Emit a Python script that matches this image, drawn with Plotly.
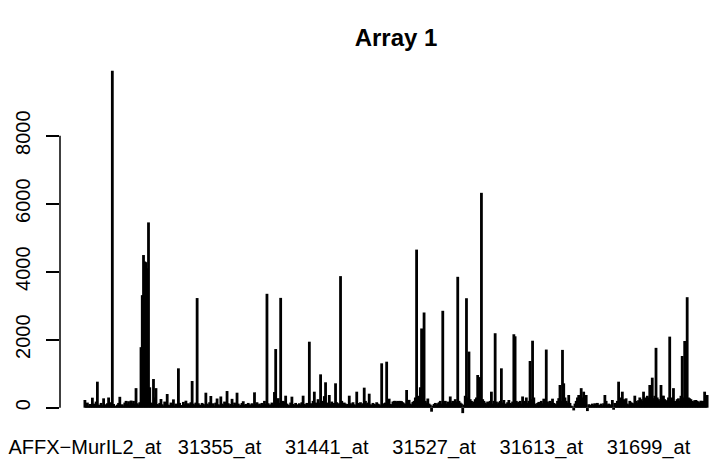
import plotly.graph_objects as go

# Expression values of Array 1 (probe index 1..500)
values = [
    226, 80, 150, 60, 110, 40, 294, 120, 90, 180,
    765, 90, 60, 140, 70, 275, 100, 50, 130, 300,
    160, 80, 9910, 110, 60, 30, 90, 140, 320, 70,
    100, 60, 150, 200, 120, 190, 80, 210, 130, 200,
    110, 575, 130, 90, 160, 1780, 3310, 4490, 4300, 4280,
    4100, 5450, 600, 150, 120, 843, 300, 575, 110, 90,
    140, 256, 100, 60, 180, 130, 402, 90, 70, 150,
    110, 245, 60, 120, 90, 1158, 140, 80, 50, 170,
    100, 206, 60, 130, 90, 160, 785, 120, 80, 150,
    3225, 130, 90, 60, 140, 110, 70, 441, 120, 90,
    160, 344, 80, 130, 60, 150, 270, 100, 70, 330,
    120, 90, 180, 140, 490, 130, 70, 110, 260, 80,
    150, 100, 441, 120, 60, 90, 140, 190, 80, 110,
    60, 140, 100, 70, 130, 90, 451, 110, 160, 80,
    120, 70, 140, 90, 200, 110, 3350, 130, 80, 100,
    150, 90, 460, 1725, 120, 280, 140, 3230, 110, 200,
    180, 353, 120, 90, 70, 150, 324, 110, 80, 140,
    100, 60, 130, 90, 160, 353, 110, 80, 140, 120,
    1941, 130, 90, 200, 471, 150, 110, 250, 140, 981,
    200, 130, 340, 747, 150, 90, 373, 120, 180, 100,
    140, 717, 160, 110, 130, 3870, 200, 90, 150, 120,
    80, 110, 353, 130, 90, 160, 100, 70, 471, 140,
    110, 160, 90, 130, 589, 200, 120, 150, 412, 100,
    80, 140, 110, 90, 160, 120, 100, 70, 1305, 130,
    90, 150, 1353, 130, 265, 110, 90, 180, 200, 200,
    170, 200, 120, 200, 190, 160, 130, 110, 520, 150,
    230, 120, 90, 170, 200, 300, 4650, 250, 350, 600,
    2330, 2000, 2800, 200, 150, 270, 120, 90, -118, 60,
    110, 140, 90, 130, 160, 200, 120, 2850, 140, 200,
    120, 180, 90, 330, 150, 200, 140, 250, 180, 3850,
    200, 150, 120, -160, 90, 350, 3220, 300, 1650, 250,
    200, 150, 180, 250, 300, 962, 600, 900, 6320, 250,
    200, 150, 120, 180, 140, 200, 471, 120, 200, 2190,
    180, 120, 160, 200, 1158, 150, 226, 90, 120, 160,
    226, 140, 120, 180, 2160, 2100, 200, 150, 170, 200,
    120, 330, 180, 200, 300, 140, 200, 1373, 250, 1970,
    300, 120, 90, 140, 170, 160, 200, 130, 265, 150,
    1710, 180, 120, 200, 150, 265, 140, 120, 90, 200,
    280, 667, 200, 1700, 717, 300, 200, 150, 373, 140,
    60, 40, -80, 120, 200, 300, 373, 250, 575, 300,
    471, 200, 373, -100, 100, 90, 60, 120, 80, 130,
    60, 140, 90, 50, 120, 70, 130, 373, 200, 90,
    120, 60, 100, 226, -60, 140, 90, 200, 765, 300,
    150, 471, 250, 180, 275, 120, 90, 200, 160, 140,
    120, 353, 200, 150, 220, 300, 250, 200, 471, 300,
    250, 350, 300, 667, 400, 883, 280, 350, 1760, 300,
    250, 200, 667, 350, 353, 250, 180, 220, 300, 2090,
    250, 300, 575, 200, 150, 250, 275, 200, 350, 1520,
    300, 1961, 400, 3250, 300, 275, 250, 200, 180, 220,
    226, 200, 180, 150, 206, 120, 200, 471, 300, 373,
]
index = list(range(1, len(values) + 1))

# x-axis labels (probe names) and their probe indices
x_tick_index = [1, 109, 195, 281, 367, 453]
x_tick_labels = ["AFFX\u2212MurIL2_at", "31355_at", "31441_at", "31527_at", "31613_at", "31699_at"]

y_ticks = [0, 2000, 4000, 6000, 8000]

# build type="h" style vertical lines
xs, ys = [], []
for i, v in zip(index, values):
    xs += [i, i, None]
    ys += [0, v, None]

FONT = "Liberation Sans, Arial, Helvetica, sans-serif"

fig = go.Figure()
fig.add_trace(go.Scatter(x=xs, y=ys, mode="lines",
                         line=dict(color="black", width=2.8),
                         hoverinfo="skip", showlegend=False))

fig.add_shape(type="line", xref="paper", yref="y", x0=0, x1=0,
              y0=y_ticks[0], y1=y_ticks[-1], line=dict(color="black", width=1.5))

fig.update_layout(
    width=710, height=465,
    margin=dict(l=60, r=0, t=57, b=38),
    paper_bgcolor="white", plot_bgcolor="white",
    font=dict(family=FONT, color="black", size=20),
    title=dict(text="<b>Array 1</b>", x=396 / 710, xref="container", xanchor="center",
               y=1 - 38 / 465, yref="container", yanchor="middle",
               font=dict(size=24, family=FONT, color="black")),
    showlegend=False,
)
fig.update_xaxes(range=[-18.97, 502.3], tickmode="array", tickvals=x_tick_index,
                 ticktext=x_tick_labels, ticks="", showgrid=False, zeroline=False,
                 showline=False, tickfont=dict(size=20), ticklabelstandoff=6)
fig.update_yaxes(range=[-568, 10315], tickmode="array", tickvals=y_ticks,
                 ticktext=[str(t) for t in y_ticks], ticks="outside", ticklen=13,
                 tickwidth=1.5, tickcolor="black", tickangle=-90,
                 showgrid=False, zeroline=False, showline=False,
                 tickfont=dict(size=20), ticklabelstandoff=8)

fig.write_html("out.html")
